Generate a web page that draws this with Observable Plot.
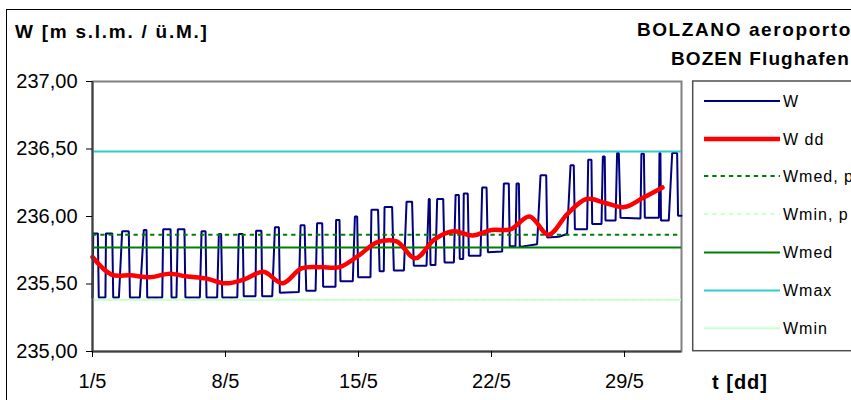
<!DOCTYPE html>
<html><head><meta charset="utf-8">
<script src="https://cdn.jsdelivr.net/npm/d3@7"></script>
<script src="https://cdn.jsdelivr.net/npm/@observablehq/plot@0.6"></script>
<style>
body{margin:0;background:#fff;}
#chart{position:relative;width:851px;height:400px;overflow:hidden;background:#fff;}
</style></head><body><div id="chart"></div>
<script>
// ---- data ----
const wTime = [1.00,1.04,1.28,1.33,1.68,1.71,2.04,2.09,2.39,2.56,2.91,2.97,3.49,3.70,3.84,3.88,4.67,4.72,5.11,5.16,5.42,5.49,5.84,5.89,6.65,6.74,6.95,7.00,7.56,7.65,7.77,7.83,8.62,8.70,8.91,8.96,9.58,9.61,9.89,9.93,10.46,10.60,10.81,10.86,11.86,11.95,12.16,12.25,12.74,12.82,13.09,13.14,13.79,13.82,14.00,14.05,14.70,14.81,14.93,14.98,15.63,15.68,16.03,16.11,16.33,16.37,16.77,16.86,17.39,17.53,17.82,17.91,18.58,18.70,18.75,18.79,19.05,19.14,19.46,19.53,20.02,20.11,20.28,20.33,20.51,20.54,20.75,20.81,21.42,21.51,21.74,21.81,22.56,22.65,22.91,22.96,23.26,23.32,23.44,23.49,24.40,24.58,24.88,24.93,25.54,25.98,26.16,26.33,26.39,27.03,27.09,27.26,27.30,27.79,27.86,27.96,28.00,28.53,28.61,28.70,28.79,29.84,29.89,30.02,30.07,30.81,30.84,30.89,30.92,31.33,31.51,31.77,31.82,32.00];
const wLevel = [235.40,235.875,235.875,235.40,235.40,235.875,235.875,235.40,235.40,235.89,235.89,235.40,235.40,235.90,235.90,235.40,235.40,235.905,235.905,235.40,235.40,235.905,235.905,235.40,235.40,235.89,235.89,235.40,235.40,235.87,235.87,235.40,235.40,235.87,235.87,235.41,235.41,235.895,235.895,235.41,235.41,235.92,235.92,235.435,235.44,235.935,235.935,235.45,235.45,235.95,235.95,235.48,235.48,235.975,235.975,235.52,235.52,236.00,236.00,235.55,235.55,236.05,236.05,235.595,235.595,236.07,236.07,235.60,235.60,236.11,236.11,235.635,235.635,236.13,236.13,235.64,235.64,236.13,236.13,235.66,235.66,236.16,236.16,235.685,235.685,236.17,236.17,235.71,235.71,236.215,236.215,235.735,235.74,236.245,236.245,235.78,235.78,236.245,236.245,235.775,235.795,236.305,236.305,235.845,235.85,235.87,236.38,236.38,235.905,235.905,236.42,236.42,235.945,235.945,236.445,236.445,235.97,235.97,236.47,236.47,235.99,235.985,236.465,236.465,235.99,235.99,236.47,236.47,235.97,235.97,236.47,236.47,236.005,236.005];
const wddDay = [1,2,3,4,5,6,7,8,9,10,11,12,13,14,15,16,17,18,19,20,21,22,23,24,25,26,27,28,29,30,31];
const wddLevel = [235.70,235.57,235.565,235.55,235.575,235.555,235.54,235.505,235.535,235.59,235.505,235.615,235.625,235.625,235.71,235.81,235.815,235.69,235.83,235.89,235.86,235.90,235.905,236.00,235.865,236.02,236.13,236.10,236.07,236.14,236.215];
const refNames = ["Wmed, p","Wmin, p","Wmed","Wmax","Wmin"];
const refValues = [235.865,235.383,235.771,236.481,235.383];
const yTicks = [235,235.5,236,236.5,237];
const xTicks = [1,8,15,22,29];
const xTickLabels = ["1/5","8/5","15/5","22/5","29/5"];
const legendLabels = ["W","W dd","Wmed, p","Wmin, p","Wmed","Wmax","Wmin"];

// ---- styles ----
const FONT = "'Liberation Sans', Arial, Helvetica, sans-serif";
const refStyle = {
  "Wmed, p": {stroke:"#008000", dash:"4.3,4"},
  "Wmin, p": {stroke:"#ccffcc", dash:"4.3,4"},
  "Wmed": {stroke:"#008000", dash:null},
  "Wmax": {stroke:"#33cccc", dash:null},
  "Wmin": {stroke:"#ccffcc", dash:null}
};
const legendStyle = [
  {stroke:"#000080", w:2, dash:null},
  {stroke:"#ff0000", w:4.5, dash:null},
  {stroke:"#008000", w:2, dash:"4.3,4"},
  {stroke:"#ccffcc", w:2, dash:"4.3,4"},
  {stroke:"#008000", w:2, dash:null},
  {stroke:"#33cccc", w:2, dash:null},
  {stroke:"#ccffcc", w:2, dash:null}
];

const wData = wTime.map((t,i)=>({t, v:wLevel[i]}));
const wddData = wddDay.map((d,i)=>({d, v:wddLevel[i]}));
const refOrder = ["Wmin, p","Wmin","Wmax","Wmed","Wmed, p"];
const refMarks = refOrder.map(n => {
  const i = refNames.indexOf(n);
  const s = refStyle[n];
  return Plot.ruleY([refValues[i]], {stroke:s.stroke, strokeWidth:2, strokeDasharray:s.dash || undefined});
});

const plot = Plot.plot({
  width: 851, height: 400,
  marginLeft: 92, marginRight: 170, marginTop: 81, marginBottom: 49,
  style: {fontFamily: FONT, fontSize: "20px", color: "#000", background: "transparent", overflow: "visible"},
  x: {domain:[1,32], label:null},
  y: {domain:[235,237], label:null},
  marks: [
    Plot.frame({stroke:"#808080", strokeWidth:2}),
    Plot.line(wData, {x:"t", y:"v", stroke:"#000080", strokeWidth:2, strokeLinejoin:"miter"}),
    ...refMarks,
    Plot.line(wddData, {x:"d", y:"v", stroke:"#ff0000", strokeWidth:4.5, curve:"catmull-rom"}),
    Plot.ruleX([1], {stroke:"#404040", strokeWidth:2}),
    Plot.ruleY([235], {stroke:"#404040", strokeWidth:2}),
    Plot.axisX({ticks:xTicks, tickFormat:d=>xTickLabels[xTicks.indexOf(d)], tickSize:6, tickPadding:16, label:null, color:"#000", fontSize:20}),
    Plot.axisY({ticks:yTicks, tickFormat:d=>d.toFixed(2).replace(".",","), tickSize:6, tickPadding:9, label:null, color:"#000", fontSize:20, style:{letterSpacing:"0.5px"}})
  ]
});
document.getElementById("chart").appendChild(plot);

// ---- titles, outer border, legend ----
const svg = d3.select(plot);
svg.append("rect").attr("x",6.5).attr("y",9.5).attr("width",900).attr("height",500)
  .attr("fill","none").attr("stroke","#000").attr("stroke-width",1);
const T = (x,y,txt,opt) => svg.append("text").attr("x",x).attr("y",y).text(txt)
  .attr("font-family",FONT).attr("font-size",opt.size).attr("font-weight",opt.bold?"bold":"normal")
  .attr("letter-spacing",opt.ls||0).attr("text-anchor",opt.anchor||"start").attr("fill","#000");
T(15,38,"W [m s.l.m. / ü.M.]",{size:19,bold:true,ls:1.75});
T(852,36,"BOLZANO aeroporto",{size:19,bold:true,ls:1.6,anchor:"end"});
T(850,65,"BOZEN Flughafen",{size:19,bold:true,ls:1.1,anchor:"end"});
T(712,388.5,"t [dd]",{size:20,bold:true,ls:1});

svg.append("rect").attr("x",692.7).attr("y",81).attr("width",220).attr("height",269.7)
  .attr("fill","#fff").attr("stroke","#505050").attr("stroke-width",1.5);
const rowY = [101,139,176,214,252.5,290.5,328.3];
legendLabels.forEach((lab,i)=>{
  const s = legendStyle[i];
  const ln = svg.append("line").attr("x1",704).attr("x2",780).attr("y1",rowY[i]).attr("y2",rowY[i])
    .attr("stroke",s.stroke).attr("stroke-width",s.w);
  if (s.dash) ln.attr("stroke-dasharray",s.dash);
  svg.append("text").attr("x",783).attr("y",rowY[i]).attr("dy","0.36em").text(lab)
    .attr("text-anchor","start")
    .attr("font-family",FONT).attr("font-size",16).attr("letter-spacing",1).attr("fill","#000");
});
</script>
</body></html>
